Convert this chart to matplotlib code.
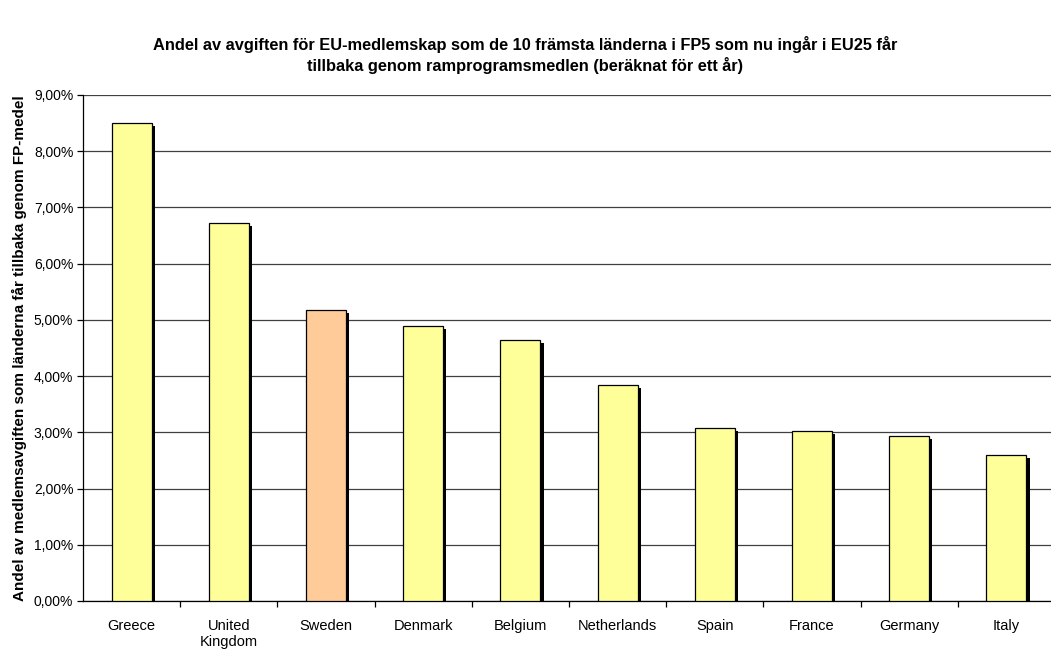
import matplotlib
matplotlib.use("Agg")
import matplotlib.pyplot as plt
import matplotlib.patheffects as pe
from matplotlib.ticker import FuncFormatter, FixedLocator

countries = ["Greece", "United\nKingdom", "Sweden", "Denmark", "Belgium",
             "Netherlands", "Spain", "France", "Germany", "Italy"]
values = [8.50, 6.72, 5.18, 4.89, 4.64, 3.84, 3.08, 3.02, 2.94, 2.60]
colors = ["#FFFF99", "#FFFF99", "#FFCC99", "#FFFF99", "#FFFF99",
          "#FFFF99", "#FFFF99", "#FFFF99", "#FFFF99", "#FFFF99"]

plt.rcParams['font.family'] = ['Liberation Sans', 'DejaVu Sans']

W, H = 1051, 653
fig = plt.figure(figsize=(W/100, H/100), dpi=100)
left, right, top, bottom = 83, 1055, 95, 601
ax = fig.add_axes([left/W, 1-bottom/H, (right-left)/W, (bottom-top)/H])

x = list(range(len(countries)))
bars = ax.bar(x, values, width=0.41, color=colors, edgecolor="black",
              linewidth=0.9, zorder=3)
for b in bars:
    b.set_path_effects([pe.SimplePatchShadow(offset=(2.3, -2.3),
                                             shadow_rgbFace="black", alpha=1.0),
                        pe.Normal()])

ax.set_xlim(-0.5, len(countries)-0.5)
ax.set_ylim(0, 9)
ax.set_yticks([i for i in range(10)])
ax.yaxis.set_major_formatter(FuncFormatter(lambda v, p: f"{v:.2f}%".replace(".", ",")))
ax.grid(axis="y", color="#404040", linewidth=0.9, zorder=0)
ax.set_axisbelow(True)

ax.set_xticks(x)
ax.set_xticklabels(countries, fontsize=10.5)
ax.tick_params(axis="x", length=0, pad=13)
ax.xaxis.set_minor_locator(FixedLocator([i+0.5 for i in range(len(countries)-1)]))
ax.tick_params(axis="x", which="minor", length=4, width=0.9, direction="out")
ax.tick_params(axis="y", length=4, width=0.9, labelsize=10, pad=3)

for s in ["top", "right"]:
    ax.spines[s].set_visible(False)
ax.spines["left"].set_linewidth(0.9)
ax.spines["bottom"].set_linewidth(0.9)

ax.set_ylabel("Andel av medlemsavgiften som länderna får tillbaka genom FP-medel",
              fontsize=11, fontweight="bold", labelpad=5)

fig.text(0.5, 1-55/H, "Andel av avgiften för EU-medlemskap som de 10 främsta länderna i FP5 som nu ingår i EU25 får\ntillbaka genom ramprogramsmedlen (beräknat för ett år)",
         ha="center", va="center", fontsize=11.8, fontweight="bold", linespacing=1.25)

fig.savefig("out.png", dpi=100)
